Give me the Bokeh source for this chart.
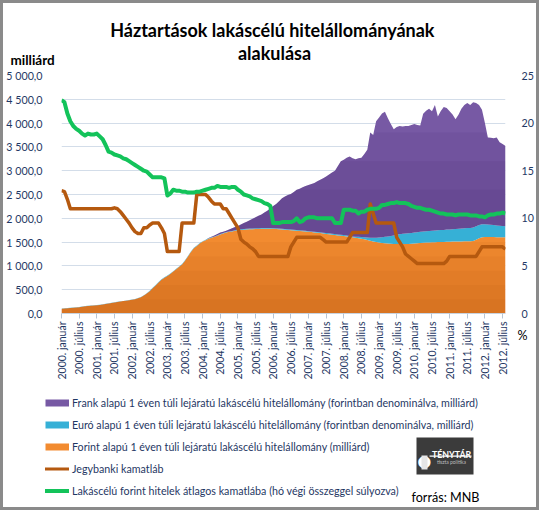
import math
from bokeh.plotting import figure
from bokeh.layouts import column, row
from bokeh.models import (ColumnDataSource, Range1d, LinearAxis, FixedTicker,
                          Label, Legend, LegendItem, BoxAnnotation, Div)
from bokeh.embed import file_html
from bokeh.resources import INLINE

# ---------------- data (monthly, 2000 január .. 2012 augusztus) ----------------
x_tick_labels = [
    "2000. január", "2000. július", "2001. január", "2001. július",
    "2002. január", "2002. július", "2003. január", "2003. július",
    "2004. január", "2004. július", "2005. január", "2005. július",
    "2006. január", "2006. július", "2007. január", "2007. július",
    "2008. január", "2008. július", "2009. január", "2009. július",
    "2010. január", "2010. július", "2011. január", "2011. július",
    "2012. január", "2012. július",
]
left_tick_values = [0, 500, 1000, 1500, 2000, 2500, 3000, 3500, 4000, 4500, 5000]
left_tick_labels = ["0,0", "500,0", "1 000,0", "1 500,0", "2 000,0", "2 500,0",
                    "3 000,0", "3 500,0", "4 000,0", "4 500,0", "5 000,0"]
right_tick_values = [0, 5, 10, 15, 20, 25]
right_tick_labels = ["0", "5", "10", "15", "20", "25"]

forint = [
    100, 105, 110, 115, 120, 125, 130, 140, 150, 160, 165, 170,
    175, 180, 190, 200, 210, 220, 230, 240, 250, 260, 270, 280,
    290, 300, 320, 340, 380, 420, 470, 530, 590, 650, 710, 750,
    790, 830, 880, 930, 980, 1030, 1110, 1200, 1290, 1370, 1420, 1470,
    1510, 1540, 1570, 1590, 1610, 1635, 1660, 1680, 1700, 1715, 1725, 1740,
    1750, 1755, 1760, 1765, 1770, 1772, 1775, 1777, 1780, 1780, 1780, 1780,
    1778, 1775, 1770, 1765, 1760, 1755, 1750, 1745, 1740, 1735, 1730, 1725,
    1715, 1710, 1700, 1695, 1690, 1680, 1670, 1665, 1655, 1650, 1640, 1635,
    1630, 1620, 1610, 1600, 1590, 1580, 1570, 1560, 1545, 1530, 1515, 1500,
    1490, 1480, 1475, 1470, 1465, 1460, 1460, 1460, 1460, 1460, 1460, 1465,
    1470, 1475, 1480, 1485, 1490, 1490, 1495, 1495, 1500, 1500, 1500, 1505,
    1505, 1510, 1510, 1515, 1515, 1520, 1520, 1520, 1525, 1550, 1580, 1600,
    1605, 1605, 1605, 1605, 1600, 1600, 1600, 1600,
]
euro = [
    5, 5, 5, 5, 5, 5, 5, 5, 5, 5, 5, 5,
    5, 5, 5, 5, 5, 5, 5, 5, 5, 5, 5, 5,
    5, 5, 5, 5, 5, 5, 10, 10, 10, 10, 10, 10,
    10, 10, 10, 10, 10, 10, 10, 10, 10, 10, 10, 10,
    10, 10, 10, 10, 10, 10, 10, 10, 10, 10, 10, 10,
    15, 15, 15, 15, 15, 15, 15, 15, 15, 15, 15, 15,
    15, 15, 15, 15, 15, 15, 15, 15, 15, 15, 15, 15,
    15, 15, 15, 15, 15, 15, 20, 20, 20, 20, 20, 20,
    20, 20, 20, 20, 25, 30, 35, 40, 50, 60, 75, 90,
    105, 120, 135, 150, 165, 180, 195, 205, 215, 220, 225, 228,
    230, 232, 235, 238, 240, 242, 245, 248, 250, 252, 255, 258,
    260, 262, 265, 268, 270, 272, 275, 278, 280, 282, 280, 275,
    270, 265, 260, 255, 250, 245, 240, 235,
]
frank = [
    0, 0, 0, 0, 0, 0, 0, 0, 0, 0, 0, 0,
    0, 0, 0, 0, 0, 0, 0, 0, 0, 0, 0, 0,
    0, 0, 0, 0, 0, 0, 0, 0, 0, 0, 0, 0,
    0, 0, 0, 0, 0, 0, 0, 0, 0, 0, 0, 0,
    0, 0, 5, 10, 20, 25, 30, 30, 30, 40, 55, 65,
    75, 100, 125, 150, 175, 205, 230, 260, 285, 325, 365, 415,
    465, 510, 575, 640, 685, 720, 745, 790, 845, 870, 905, 940,
    970, 995, 1025, 1070, 1105, 1145, 1190, 1235, 1285, 1330, 1440, 1545,
    1580, 1630, 1670, 1640, 1625, 1650, 1665, 1750, 1845, 2210, 2160, 2450,
    2525, 2600, 2630, 2480, 2350, 2230, 2265, 2275, 2255, 2260, 2255, 2265,
    2280, 2255, 2235, 2475, 2530, 2570, 2510, 2635, 2390, 2500, 2585, 2555,
    2485, 2410, 2305, 2395, 2515, 2590, 2625, 2580, 2635, 2590, 2520, 2405,
    2125, 1830, 1825, 1820, 1850, 1755, 1720, 1685,
]
jegybanki = [
    12.9, 12.8, 12.0, 11.0, 11.0, 11.0, 11.0, 11.0, 11.0, 11.0, 11.0, 11.0,
    11.0, 11.0, 11.0, 11.0, 11.0, 11.0, 11.1, 11.0, 10.7, 10.3, 9.9, 9.5,
    9.0, 8.6, 8.4, 8.4, 9.0, 9.0, 9.3, 9.5, 9.5, 9.5, 9.0, 8.4,
    6.5, 6.5, 6.5, 6.5, 6.5, 9.5, 9.5, 9.5, 9.5, 9.5, 12.5, 12.5,
    12.5, 12.5, 12.2, 11.8, 11.5, 11.5, 11.5, 11.0, 11.0, 10.5, 10.0, 9.5,
    9.0, 7.8, 7.5, 7.3, 7.0, 6.8, 6.5, 6.0, 6.0, 6.0, 6.0, 6.0,
    6.0, 6.0, 6.0, 6.0, 6.0, 6.0, 7.0, 7.5, 8.0, 8.0, 8.0, 8.0,
    8.0, 8.0, 8.0, 8.0, 8.0, 7.75, 7.5, 7.5, 7.5, 7.5, 7.5, 7.5,
    7.5, 7.5, 8.0, 8.5, 8.5, 8.5, 8.5, 8.5, 8.5, 11.5, 10.5, 9.5,
    9.5, 9.5, 9.5, 9.5, 9.5, 9.5, 8.0, 7.5, 7.0, 6.25, 6.0, 5.75,
    5.5, 5.25, 5.25, 5.25, 5.25, 5.25, 5.25, 5.25, 5.25, 5.25, 5.25, 5.5,
    6.0, 6.0, 6.0, 6.0, 6.0, 6.0, 6.0, 6.0, 6.0, 6.0, 6.5, 7.0,
    7.0, 7.0, 7.0, 7.0, 7.0, 7.0, 7.0, 6.75,
]
lakascelu = [
    22.4, 22.2, 21.0, 20.2, 19.7, 19.4, 19.2, 18.9, 18.7, 18.9, 18.8, 18.8,
    18.9, 18.6, 18.3, 17.7, 17.0, 16.9, 16.7, 16.6, 16.5, 16.3, 16.2, 16.0,
    15.8, 15.6, 15.4, 15.2, 15.0, 14.9, 14.6, 14.3, 14.3, 14.3, 14.3, 14.2,
    12.4, 12.6, 13.0, 12.9, 12.9, 12.8, 12.8, 12.7, 12.7, 12.7, 12.8, 12.8,
    12.9, 13.0, 13.1, 13.2, 13.2, 13.4, 13.3, 13.3, 13.3, 13.2, 13.3, 13.3,
    13.0, 12.8, 12.5, 12.4, 12.3, 12.1, 12.0, 11.9, 11.8, 11.6, 11.5, 11.3,
    9.5, 9.5, 9.5, 9.6, 9.6, 9.6, 9.6, 9.7, 10.0, 9.6, 9.7, 10.0,
    10.1, 10.1, 10.1, 10.0, 10.0, 10.0, 10.0, 10.0, 10.0, 9.5, 9.5, 9.5,
    10.9, 10.9, 10.9, 10.8, 10.8, 10.5, 10.7, 10.7, 10.9, 11.0, 11.0, 11.0,
    11.1, 11.4, 11.4, 11.5, 11.6, 11.6, 11.7, 11.6, 11.6, 11.6, 11.5, 11.3,
    11.2, 11.1, 11.1, 11.0, 10.9, 10.9, 10.8, 10.7, 10.6, 10.5, 10.5, 10.4,
    10.4, 10.4, 10.3, 10.4, 10.4, 10.4, 10.4, 10.3, 10.3, 10.3, 10.2, 10.2,
    10.1, 10.3, 10.4, 10.4, 10.5, 10.5, 10.6, 10.5,
]
months = list(range(len(forint)))
x_tick_values = [i * 6 for i in range(len(x_tick_labels))]

legend_labels = [
    "Frank alapú 1 éven túli lejáratú lakáscélú hitelállomány (forintban denominálva, milliárd)",
    "Euró alapú 1 éven túli lejáratú lakáscélú hitelállomány (forintban denominálva, milliárd)",
    "Forint alapú 1 éven túli lejáratú lakáscélú hitelállomány (milliárd)",
    "Jegybanki kamatláb",
    "Lakáscélú forint hitelek átlagos kamatlába (hó végi összeggel súlyozva)",
]

# ---------------- style ----------------
C_ORANGE = "#f28b30"
C_BLUE = "#36b0d6"
C_PURPLE = "#7759a4"
C_BROWN = "#b5590f"
C_GREEN = "#13c35a"
C_AXIS = "#1f3864"
C_BORDER = "#8a8a8a"
FONT = "Lato"
SHADE_ORANGE = [1500, 1200, 900, 600, 300]      # gradient shading levels
SHADE_PURPLE = [3800, 3200, 2600]

W = 533            # inner width (inside the 3px frame)
H_TOP = 64
H_MAIN = 330
H_BOT = 504 - H_TOP - H_MAIN


def bare(height):
    f = figure(width=W, height=height, output_backend="svg", toolbar_location=None,
               x_axis_type=None, y_axis_type=None,
               x_range=Range1d(0, W), y_range=Range1d(height, 0),
               min_border=0, frame_align=False)
    f.title.visible = False
    f.outline_line_color = None
    f.background_fill_color = "white"
    f.border_fill_color = "white"
    return f


def txt(f, x, y, text, size, bold=False, color="black", align="left"):
    f.add_layout(Label(x=x, y=y, text=text, text_font=FONT, text_font_size=size,
                       text_font_style="bold" if bold else "normal",
                       text_color=color, text_align=align,
                       text_baseline="alphabetic"))


# ---------------- title strip ----------------
p_top = bare(H_TOP)
txt(p_top, 271, 26, "Háztartások  lakáscélú hitelállományának", "18px", bold=True,
    align="center")
txt(p_top, 271, 49.5, "alakulása", "18px", bold=True, align="center")
txt(p_top, 7, 56.5, "milliárd", "13.5px", bold=True)

# ---------------- main chart ----------------
p = figure(width=W, height=H_MAIN, output_backend="svg", toolbar_location=None,
           x_range=Range1d(0, months[-1]), y_range=Range1d(0, 5000),
           min_border_left=53, min_border_right=29, min_border_top=8,
           min_border_bottom=80, frame_align=False)
p.title.visible = False
p.outline_line_color = None
p.background_fill_color = "white"
p.border_fill_color = "white"

p.xgrid.visible = False
p.ygrid.ticker = FixedTicker(ticks=left_tick_values)
p.ygrid.grid_line_color = "#d3dde9"
p.ygrid.grid_line_width = 1

ya = p.yaxis[0]
ya.ticker = FixedTicker(ticks=left_tick_values)
ya.major_label_overrides = {v: l for v, l in zip(left_tick_values, left_tick_labels)}
ya.axis_line_color = None
ya.major_tick_line_color = None
ya.minor_tick_line_color = None
ya.major_label_standoff = 13
ya.major_label_text_font = FONT
ya.major_label_text_font_size = "10.7px"
ya.major_label_text_color = C_AXIS

p.extra_y_ranges = {"pct": Range1d(0, 25)}
ra = LinearAxis(y_range_name="pct", ticker=FixedTicker(ticks=right_tick_values))
ra.major_label_overrides = {v: l for v, l in zip(right_tick_values, right_tick_labels)}
ra.axis_line_color = None
ra.major_tick_line_color = None
ra.minor_tick_line_color = None
ra.major_label_standoff = 10
ra.major_label_text_font = FONT
ra.major_label_text_font_size = "10.7px"
ra.major_label_text_color = C_AXIS
p.add_layout(ra, "right")

xa = p.xaxis[0]
xa.ticker = FixedTicker(ticks=x_tick_values)
xa.major_label_overrides = {v: l for v, l in zip(x_tick_values, x_tick_labels)}
xa.major_label_orientation = math.pi / 2
xa.axis_line_color = "#c9d3df"
xa.major_tick_line_color = "#b8c4d2"
xa.major_tick_in = 0
xa.major_tick_out = 5
xa.minor_tick_line_color = None
xa.major_label_standoff = 3
xa.major_label_text_font = FONT
xa.major_label_text_font_size = "10.5px"
xa.major_label_text_color = C_AXIS

src = ColumnDataSource(dict(m=months, forint=forint, euro=euro, frank=frank,
                            jb=jegybanki, lk=lakascelu))
p.varea_stack(["forint", "euro", "frank"], x="m", color=[C_ORANGE, C_BLUE, C_PURPLE],
              source=src)

# soft vertical gradient (darker towards the bottom), as in the original
for t in SHADE_ORANGE:
    p.varea(x=months, y1=[0] * len(months), y2=[min(v, t) for v in forint],
            fill_color="#8a3500", fill_alpha=0.055)
fe = [a + b for a, b in zip(forint, euro)]
tot = [a + b for a, b in zip(fe, frank)]
for t in SHADE_PURPLE:
    p.varea(x=months, y1=fe, y2=[max(b, min(v, t)) for b, v in zip(fe, tot)],
            fill_color="#2a1450", fill_alpha=0.07)

p.line("m", "jb", source=src, y_range_name="pct", line_color=C_BROWN,
       line_width=3.5, line_join="round")
p.line("m", "lk", source=src, y_range_name="pct", line_color=C_GREEN,
       line_width=4, line_join="round")

# "%" under the right axis (side-panel label, position relative to its own box)
p.add_layout(Label(x=456, y=62, x_units="screen", y_units="screen", text="%",
                   text_font=FONT, text_font_size="12.5px", text_color="black",
                   text_baseline="alphabetic"), "below")

# ---------------- legend / source strip ----------------
p_bot = bare(H_BOT)
nan = float("nan")
sw = dict(x=[0, 1], y=[nan, nan])
d_fr = p_bot.line(line_color=C_PURPLE, line_width=7, line_cap="butt", **sw)
d_eu = p_bot.line(line_color=C_BLUE, line_width=7, line_cap="butt", **sw)
d_ft = p_bot.line(line_color=C_ORANGE, line_width=7, line_cap="butt", **sw)
d_jb = p_bot.line(line_color=C_BROWN, line_width=3, line_cap="round", **sw)
d_lk = p_bot.line(line_color=C_GREEN, line_width=4, line_cap="round", **sw)
legend = Legend(
    items=[LegendItem(label=legend_labels[0], renderers=[d_fr]),
           LegendItem(label=legend_labels[1], renderers=[d_eu]),
           LegendItem(label=legend_labels[2], renderers=[d_ft]),
           LegendItem(label=legend_labels[3], renderers=[d_jb]),
           LegendItem(label=legend_labels[4], renderers=[d_lk])],
    location=(42, 10), orientation="vertical",
    border_line_color=None, background_fill_alpha=0, padding=0, margin=0,
    spacing=9, glyph_width=24, glyph_height=13, label_height=13, label_standoff=3,
    label_text_font=FONT, label_text_font_size="10.7px", label_text_color=C_AXIS)
p_bot.add_layout(legend)

# TÉNYTÁR logo
p_bot.add_layout(BoxAnnotation(left=413, right=470, top=40, bottom=77,
                               fill_color="#3b3b3b", fill_alpha=1, line_color=None))
txt(p_bot, 421, 62, "\u25cf", "25px", color="white", align="center")
p_bot.add_layout(BoxAnnotation(left=418, right=424, top=58, bottom=72,
                               fill_color="#e6e6e6", fill_alpha=1, line_color=None))
txt(p_bot, 428.5, 57, "TÉNYTÁR", "8.8px", bold=True, color="white")
p_bot.add_layout(BoxAnnotation(left=426, right=468, top=58, bottom=59.3,
                               fill_color="white", fill_alpha=1, line_color=None))
txt(p_bot, 448, 64, "tiszta politika", "5px", color="#bdbdbd", align="center")
txt(p_bot, 408, 100, "forrás: MNB", "12.6px")

# ---------------- frame ----------------
def strip(w, h):
    return Div(width=w, height=h, margin=0, styles={"background-color": C_BORDER})

inner = column(p_top, p, p_bot, spacing=0)
page = column(strip(W + 6, 3), row(strip(3, 504), inner, strip(3, 504), spacing=0),
              strip(W + 6, 3), spacing=0)

open("out.html", "w").write(file_html(page, INLINE))
